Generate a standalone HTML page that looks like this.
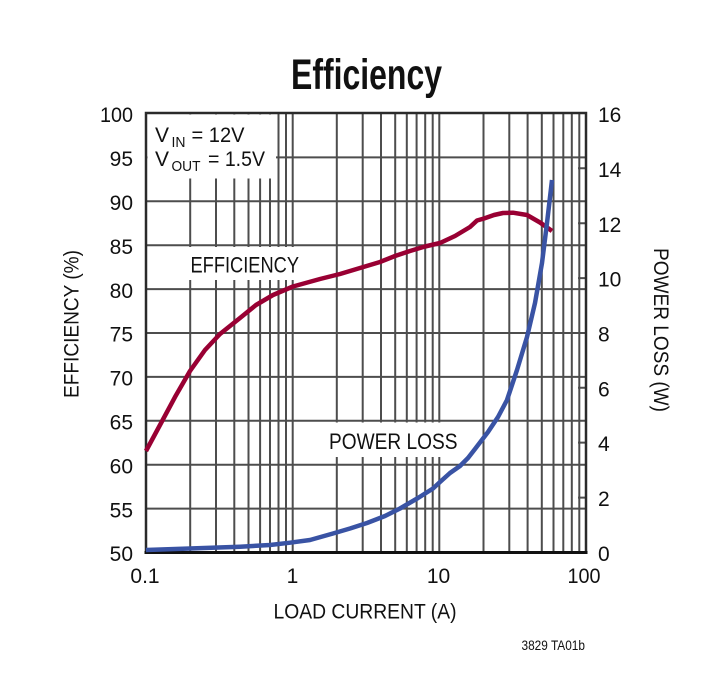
<!DOCTYPE html>
<html>
<head>
<meta charset="utf-8">
<style>
html,body{margin:0;padding:0;background:#fff;}
svg{display:block;}
text{font-family:"Liberation Sans",Arial,sans-serif;fill:#111;}
</style>
</head>
<body>
<svg width="725" height="685" viewBox="0 0 725 685" xmlns="http://www.w3.org/2000/svg">
<rect x="0" y="0" width="725" height="685" fill="#fff"/>
<text x="291" y="89" font-size="43" font-weight="bold" textLength="151" lengthAdjust="spacingAndGlyphs">Efficiency</text>
<path fill="none" stroke="#4d4d4d" stroke-width="2" d="M146 508.6H586M146 464.7H586M146 420.8H586M146 376.9H586M146 333H586M146 289.1H586M146 245.2H586M146 201.3H586M146 157.4H586
M190.2 113V552M216 113V552M234.3 113V552M248.5 113V552M260.1 113V552M270 113V552M278.5 113V552M286 113V552M292.7 113V552
M336.8 113V552M362.7 113V552M381 113V552M395.2 113V552M406.8 113V552M416.6 113V552M425.2 113V552M432.7 113V552M439.3 113V552
M483.5 113V552M509.3 113V552M527.6 113V552M541.8 113V552M553.5 113V552M563.3 113V552M571.8 113V552M579.3 113V552
M578 497.6H586M578 442.6H586M578 387.7H586M578 278.1H586M578 223.2H586M578 168.3H586"/>
<rect x="147.5" y="114.5" width="128.5" height="64" fill="#fff"/>
<rect x="186" y="247" width="116" height="33" fill="#fff"/>
<rect x="325" y="422.5" width="137" height="34.5" fill="#fff"/>
<rect x="146" y="113" width="440" height="439.5" fill="none" stroke="#2a2a2a" stroke-width="2.5"/>
<path d="M144.5 552.5H587.5" stroke="#111" stroke-width="3"/>
<polyline fill="none" stroke="#990033" stroke-width="4.5" stroke-linejoin="round" points="146,451 160,425 175,397 190,371 205,350 220,334 240,318 256,305 273,295 293,286.5 320,279 340,274 360,268 380,262 395,256 410,251 425,246.5 440,243 455,236 470,227 477,220.5 484,218.5 494,215 503,213 513,212.7 527,215 540,222.5 552,231"/>
<polyline fill="none" stroke="#3953a4" stroke-width="4.5" stroke-linejoin="round" points="146,550 190,548.5 240,546.7 270,545 290,542.7 310,540 333,533.5 350,528.5 367,523 385,516 400,508.5 418,498 433,488.5 440,482 450,473 460,466 468,458 475,449 488,432 498,417 507,400 517,370 527,337 535,303 542,263 547,223 552,180"/>
<text x="155" y="142" font-size="21">V</text>
<text x="171.5" y="147" font-size="15" textLength="14" lengthAdjust="spacingAndGlyphs">IN</text>
<text x="191.5" y="142" font-size="21" textLength="53" lengthAdjust="spacingAndGlyphs">= 12V</text>
<text x="155" y="166" font-size="21">V</text>
<text x="171.5" y="171" font-size="15" textLength="29" lengthAdjust="spacingAndGlyphs">OUT</text>
<text x="208" y="166" font-size="21" textLength="57" lengthAdjust="spacingAndGlyphs">= 1.5V</text>
<text x="190.5" y="272.7" font-size="22.5" textLength="108.5" lengthAdjust="spacingAndGlyphs">EFFICIENCY</text>
<text x="329" y="449" font-size="22.5" textLength="128.5" lengthAdjust="spacingAndGlyphs">POWER LOSS</text>
<g font-size="21" text-anchor="end">
<text x="133" y="122" textLength="33" lengthAdjust="spacingAndGlyphs">100</text>
<text x="133" y="166">95</text>
<text x="133" y="210">90</text>
<text x="133" y="254">85</text>
<text x="133" y="298">80</text>
<text x="133" y="341.5">75</text>
<text x="133" y="385.5">70</text>
<text x="133" y="429.5">65</text>
<text x="133" y="473.5">60</text>
<text x="133" y="517.5">55</text>
<text x="133" y="561">50</text>
</g>
<g font-size="21">
<text x="598" y="122">16</text>
<text x="598" y="177">14</text>
<text x="598" y="232">12</text>
<text x="598" y="286.5">10</text>
<text x="598" y="341.5">8</text>
<text x="598" y="396.5">6</text>
<text x="598" y="451">4</text>
<text x="598" y="506">2</text>
<text x="598" y="561">0</text>
</g>
<g font-size="21" text-anchor="middle">
<text x="145" y="583">0.1</text>
<text x="292.5" y="583">1</text>
<text x="438.5" y="583">10</text>
<text x="584" y="583" textLength="33" lengthAdjust="spacingAndGlyphs">100</text>
</g>
<text x="273.5" y="618.3" font-size="21" textLength="183" lengthAdjust="spacingAndGlyphs">LOAD CURRENT (A)</text>
<text transform="translate(78.5,324) rotate(-90)" font-size="21" text-anchor="middle" textLength="148" lengthAdjust="spacingAndGlyphs">EFFICIENCY (%)</text>
<text transform="translate(654,330) rotate(90)" font-size="21" text-anchor="middle" textLength="164" lengthAdjust="spacingAndGlyphs">POWER LOSS (W)</text>
<text x="521.5" y="650" font-size="14" textLength="63.5" lengthAdjust="spacingAndGlyphs">3829 TA01b</text>
</svg>
</body>
</html>
